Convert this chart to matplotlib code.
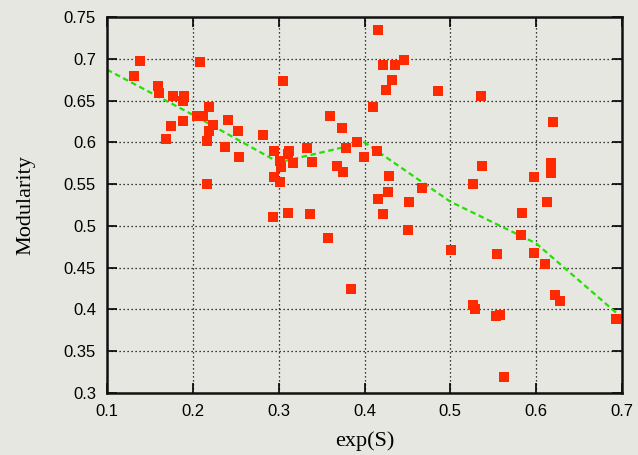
import matplotlib
matplotlib.use("Agg")
import matplotlib.pyplot as plt
from matplotlib.ticker import FuncFormatter

# Scatter data: exp(S) vs modularity
exp_s = [0.138, 0.132, 0.160, 0.161, 0.177, 0.190, 0.188, 0.208, 0.219, 0.205,
         0.212, 0.175, 0.188, 0.169, 0.224, 0.219, 0.217, 0.241, 0.253, 0.238,
         0.282, 0.254, 0.305, 0.294, 0.312, 0.311, 0.302, 0.303, 0.317, 0.333,
         0.339, 0.294, 0.301, 0.217, 0.293, 0.311, 0.336, 0.416, 0.422, 0.435,
         0.446, 0.432, 0.425, 0.486, 0.536, 0.410, 0.360, 0.374, 0.619, 0.379,
         0.391, 0.399, 0.415, 0.368, 0.375, 0.428, 0.537, 0.617, 0.617, 0.597,
         0.526, 0.467, 0.427, 0.416, 0.452, 0.612, 0.421, 0.584, 0.358, 0.451,
         0.501, 0.554, 0.582, 0.597, 0.610, 0.384, 0.526, 0.529, 0.553, 0.558,
         0.622, 0.628, 0.693, 0.563]
modularity = [0.697, 0.679, 0.667, 0.659, 0.656, 0.656, 0.650, 0.696, 0.642, 0.632,
              0.631, 0.620, 0.625, 0.604, 0.621, 0.613, 0.602, 0.627, 0.614, 0.595,
              0.609, 0.583, 0.674, 0.590, 0.590, 0.586, 0.578, 0.571, 0.575, 0.593,
              0.577, 0.558, 0.552, 0.550, 0.511, 0.515, 0.514, 0.734, 0.692, 0.692,
              0.698, 0.675, 0.663, 0.661, 0.655, 0.642, 0.631, 0.617, 0.624, 0.593,
              0.600, 0.583, 0.590, 0.572, 0.564, 0.560, 0.572, 0.575, 0.563, 0.558,
              0.550, 0.545, 0.540, 0.532, 0.529, 0.529, 0.514, 0.515, 0.486, 0.495,
              0.471, 0.466, 0.489, 0.467, 0.454, 0.424, 0.405, 0.400, 0.392, 0.393,
              0.417, 0.410, 0.389, 0.319]

# Binned average trend
trend_x = [0.1, 0.2, 0.3, 0.4, 0.5, 0.6, 0.7]
trend_y = [0.687, 0.633, 0.576, 0.600, 0.529, 0.479, 0.390]

x_ticks = [0.1, 0.2, 0.3, 0.4, 0.5, 0.6, 0.7]
y_ticks = [0.3, 0.35, 0.4, 0.45, 0.5, 0.55, 0.6, 0.65, 0.7, 0.75]

bg = "#e7e7e2"
fig = plt.figure(figsize=(6.38, 4.55), dpi=100, facecolor=bg)
ax = fig.add_axes([0.1677, 0.1363, 0.8073, 0.8263], facecolor=bg)

ax.plot(trend_x, trend_y, color="#22e000", lw=1.6, ls=(0, (2.5, 1.6)), zorder=2,
        clip_on=False)
ax.plot(exp_s, modularity, ls="none", marker="s", ms=7.0, mew=0,
        color="#ff2a00", zorder=3, clip_on=False)

ax.set_xlim(0.1, 0.7)
ax.set_ylim(0.3, 0.75)
ax.set_xticks(x_ticks)
ax.set_yticks(y_ticks)
fmt = FuncFormatter(lambda v, p: f"{v:g}")
ax.xaxis.set_major_formatter(fmt)
ax.yaxis.set_major_formatter(fmt)

ax.grid(True, color="black", ls=(0, (1, 2.2)), lw=0.9)
ax.set_axisbelow(True)
ax.tick_params(direction="in", length=7, width=1.2, top=True, right=True,
               labelsize=12, pad=8, colors="black")
for lab in ax.get_xticklabels() + ax.get_yticklabels():
    lab.set_family("Liberation Sans")
for s in ax.spines.values():
    s.set_linewidth(1.8)
    s.set_color("#111111")

ax.set_xlabel("exp(S)", family="Liberation Serif", fontsize=16, va="center")
ax.set_ylabel("Modularity", family="Liberation Serif", fontsize=16, va="center")
ax.xaxis.set_label_coords(0.5, -0.128)
ax.yaxis.set_label_coords(-0.158, 0.5)

fig.savefig("out.png", dpi=100, facecolor=bg)
